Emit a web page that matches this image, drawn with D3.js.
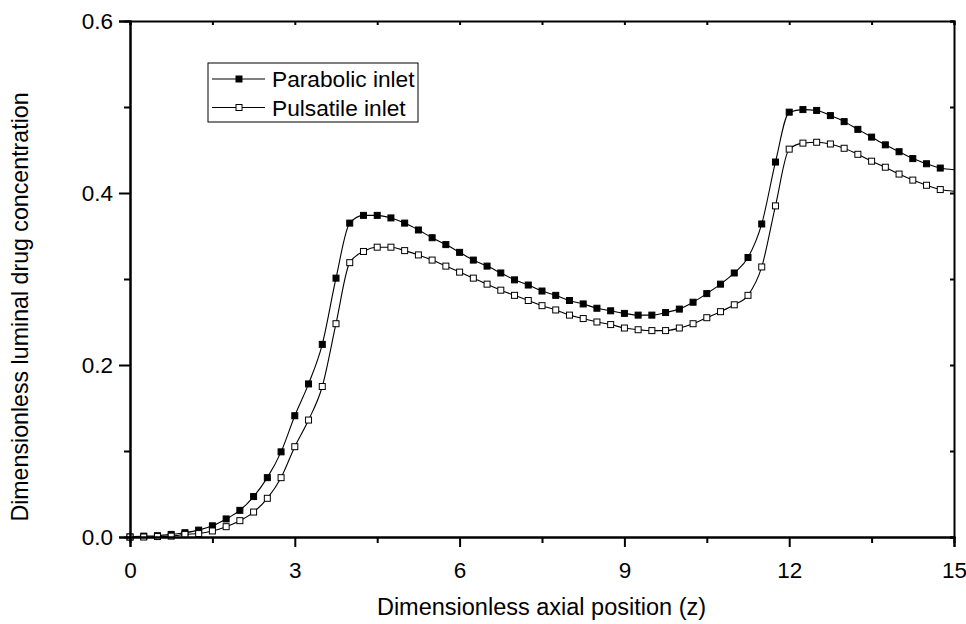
<!DOCTYPE html>
<html>
<head>
<meta charset="utf-8">
<script src="https://cdn.jsdelivr.net/npm/d3@7"></script>
<style>
  html, body { margin: 0; padding: 0; background: #fff; }
  svg { display: block; font-family: "Liberation Sans", Arial, sans-serif; }
</style>
</head>
<body>
<svg id="chart" width="966" height="624"></svg>
<script>
// ---- data ----
const zValues = [0, 0.25, 0.5, 0.75, 1, 1.25, 1.5, 1.75, 2, 2.25, 2.5, 2.75,
  3, 3.25, 3.5, 3.75, 4, 4.25, 4.5, 4.75, 5, 5.25, 5.5, 5.75,
  6, 6.25, 6.5, 6.75, 7, 7.25, 7.5, 7.75, 8, 8.25, 8.5, 8.75,
  9, 9.25, 9.5, 9.75, 10, 10.25, 10.5, 10.75, 11, 11.25, 11.5, 11.75,
  12, 12.25, 12.5, 12.75, 13, 13.25, 13.5, 13.75, 14, 14.25, 14.5, 14.75, 15];

const parabolic = [0, 0.001, 0.0015, 0.003, 0.005, 0.008, 0.013, 0.021, 0.031, 0.047, 0.069, 0.099,
  0.141, 0.178, 0.224, 0.301, 0.365, 0.374, 0.374, 0.371, 0.365, 0.357, 0.348, 0.340,
  0.331, 0.322, 0.315, 0.307, 0.299, 0.293, 0.286, 0.281, 0.275, 0.271, 0.266, 0.263,
  0.260, 0.258, 0.258, 0.261, 0.265, 0.273, 0.283, 0.294, 0.307, 0.325, 0.364, 0.436,
  0.494, 0.497, 0.496, 0.490, 0.483, 0.474, 0.465, 0.456, 0.448, 0.440, 0.434, 0.429, 0.427];

const pulsatile = [0, 0, 0.0005, 0.001, 0.003, 0.004, 0.007, 0.012, 0.019, 0.029, 0.045, 0.069,
  0.105, 0.136, 0.175, 0.248, 0.319, 0.332, 0.337, 0.337, 0.333, 0.328, 0.322, 0.315,
  0.308, 0.301, 0.294, 0.287, 0.281, 0.275, 0.269, 0.264, 0.258, 0.254, 0.250, 0.247,
  0.243, 0.241, 0.240, 0.240, 0.243, 0.248, 0.255, 0.262, 0.270, 0.281, 0.314, 0.385,
  0.451, 0.458, 0.459, 0.457, 0.452, 0.445, 0.437, 0.430, 0.422, 0.415, 0.409, 0.404, 0.402];

const seriesNames = ["Parabolic inlet", "Pulsatile inlet"];
const xTicks = [0, 3, 6, 9, 12, 15];
const xMinorTicks = [1.5, 4.5, 7.5, 10.5, 13.5];
const yTicks = [0, 0.2, 0.4, 0.6];
const yMinorTicks = [0.1, 0.3, 0.5];
const xTitle = "Dimensionless axial position (z)";
const yTitle = "Dimensionless luminal drug concentration";

// ---- layout ----
const svg = d3.select("#chart");
const L = 130, R = 954, T = 21, B = 537;
const x = d3.scaleLinear().domain([0, 15]).range([L, R]);
const y = d3.scaleLinear().domain([0, 0.6]).range([B, T]);

const series = [
  { name: seriesNames[0], values: parabolic, fill: "#000" },
  { name: seriesNames[1], values: pulsatile, fill: "#fff" }
];

const line = d3.line()
  .x(d => x(d[0])).y(d => y(d[1]))
  .curve(d3.curveMonotoneX);

const plot = svg.append("g");
series.forEach(s => {
  const pts = zValues.map((z, i) => [z, s.values[i]]);
  plot.append("path").datum(pts)
    .attr("fill", "none").attr("stroke", "#000").attr("stroke-width", 1.1)
    .attr("d", line);
});
series.forEach(s => {
  const pts = zValues.map((z, i) => [z, s.values[i]]).filter(d => d[0] < 15);
  plot.selectAll(null).data(pts).enter().append("rect")
    .attr("x", d => x(d[0]) - 3).attr("y", d => y(d[1]) - 3)
    .attr("width", 6).attr("height", 6)
    .attr("fill", s.fill).attr("stroke", "#000").attr("stroke-width", 1);
});

// ---- axes ----
const fmtY = d3.format(".1f");
const gBottom = svg.append("g").attr("transform", `translate(0,${B})`)
  .call(d3.axisBottom(x).tickValues(xTicks).tickSize(10).tickPadding(15).tickFormat(d3.format("d")));
const gBottomMinor = svg.append("g").attr("transform", `translate(0,${B})`)
  .call(d3.axisBottom(x).tickValues(xMinorTicks).tickSize(6).tickFormat(""));
const gLeft = svg.append("g").attr("transform", `translate(${L},0)`)
  .call(d3.axisLeft(y).tickValues(yTicks).tickSize(11).tickPadding(6).tickFormat(fmtY));
const gLeftMinor = svg.append("g").attr("transform", `translate(${L},0)`)
  .call(d3.axisLeft(y).tickValues(yMinorTicks).tickSize(6).tickFormat(""));
const gTop = svg.append("g").attr("transform", `translate(0,${T})`)
  .call(d3.axisTop(x).tickValues(xTicks.concat(xMinorTicks)).tickSize(-4).tickFormat(""));
const gRight = svg.append("g").attr("transform", `translate(${R},0)`)
  .call(d3.axisRight(y).tickValues(yTicks.concat(yMinorTicks)).tickSize(-4).tickFormat(""));

[gBottom, gBottomMinor, gLeft, gLeftMinor, gTop, gRight].forEach(g => {
  g.select(".domain").attr("stroke", "#000").attr("stroke-width", 2);
  g.selectAll(".tick line").attr("stroke", "#000").attr("stroke-width", 2);
  g.selectAll(".tick text").attr("font-size", 22.5).attr("fill", "#000")
    .attr("font-family", "'Liberation Sans', Arial, sans-serif");
});

// axis titles
svg.append("text").attr("x", (377 + 706) / 2).attr("y", 615)
  .attr("text-anchor", "middle").attr("font-size", 23.5).text(xTitle);
svg.append("text")
  .attr("transform", `translate(28,307) rotate(-90)`)
  .attr("text-anchor", "middle").attr("font-size", 23.2).text(yTitle);

// ---- legend ----
const lg = svg.append("g");
lg.append("rect").attr("x", 208).attr("y", 63).attr("width", 210).attr("height", 59)
  .attr("fill", "#fff").attr("stroke", "#000").attr("stroke-width", 1);
series.forEach((s, i) => {
  const cy = 79 + i * 28.5;
  lg.append("line").attr("x1", 212).attr("x2", 265).attr("y1", cy).attr("y2", cy)
    .attr("stroke", "#000").attr("stroke-width", 1.1);
  lg.append("rect").attr("x", 236).attr("y", cy - 3).attr("width", 6).attr("height", 6)
    .attr("fill", s.fill).attr("stroke", "#000").attr("stroke-width", 1);
  lg.append("text").attr("x", 272).attr("y", cy + 8).attr("font-size", 22.7).text(s.name);
});
</script>
</body>
</html>
